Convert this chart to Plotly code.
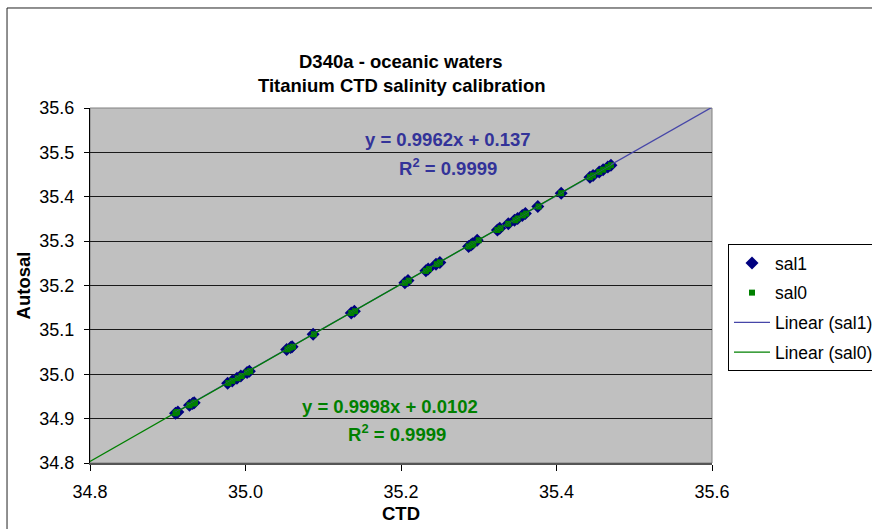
import plotly.graph_objects as go

# ---------------- data ----------------
autosal = [34.912, 34.915, 34.930, 34.934, 34.936, 34.980, 34.985, 34.991, 34.996, 35.004,
           35.007, 35.056, 35.060, 35.062, 35.090, 35.138, 35.142, 35.206, 35.211, 35.233,
           35.237, 35.248, 35.252, 35.288, 35.291, 35.294, 35.302, 35.325, 35.329, 35.339,
           35.347, 35.351, 35.358, 35.362, 35.378, 35.408, 35.444, 35.448, 35.456, 35.461,
           35.467, 35.471]
ctd_sal1 = [34.910, 34.913, 34.928, 34.932, 34.934, 34.977, 34.983, 34.989, 34.994, 35.002,
            35.005, 35.053, 35.058, 35.060, 35.087, 35.136, 35.140, 35.205, 35.209, 35.232,
            35.235, 35.245, 35.250, 35.287, 35.290, 35.292, 35.298, 35.324, 35.327, 35.338,
            35.346, 35.350, 35.356, 35.360, 35.376, 35.406, 35.443, 35.447, 35.455, 35.460,
            35.466, 35.470]
ctd_sal0 = [34.910, 34.912, 34.928, 34.933, 34.935, 34.978, 34.983, 34.990, 34.995, 35.002,
            35.006, 35.054, 35.057, 35.061, 35.088, 35.136, 35.141, 35.205, 35.210, 35.232,
            35.236, 35.246, 35.250, 35.287, 35.291, 35.293, 35.300, 35.324, 35.328, 35.338,
            35.347, 35.350, 35.357, 35.361, 35.377, 35.406, 35.443, 35.447, 35.455, 35.460,
            35.466, 35.470]

fit_slope = {"sal1": 0.9962, "sal0": 0.9998}
fit_intercept = {"sal1": 0.137, "sal0": 0.0102}
trend_x = {"sal1": [34.91, 35.6], "sal0": [34.8, 35.47]}

eq_text = {"sal1": ["y = 0.9962x + 0.137", "R<sup>2</sup> = 0.9999"],
           "sal0": ["y = 0.9998x + 0.0102", "R<sup>2</sup> = 0.9999"]}

x_ticks = [34.8, 35.0, 35.2, 35.4, 35.6]
y_ticks = [34.8, 34.9, 35.0, 35.1, 35.2, 35.3, 35.4, 35.5, 35.6]

FONT = "Liberation Sans, Arial, sans-serif"
BLUE_TXT = "#333399"
GREEN = "#008000"
NAVY = "#000080"
BLUE_LINE = "#4646A8"

fig = go.Figure()

fig.add_trace(go.Scatter(x=ctd_sal1, y=autosal, mode="markers", name="sal1",
                         legendgroup="a",
                         marker=dict(symbol="diamond", size=10, color=NAVY)))
fig.add_trace(go.Scatter(x=ctd_sal0, y=autosal, mode="markers", name="sal0",
                         legendgroup="b",
                         marker=dict(symbol="square", size=6, color=GREEN)))

for key, col, grp in [("sal1", BLUE_LINE, "c"), ("sal0", GREEN, "d")]:
    xs = trend_x[key]
    ys = [fit_slope[key] * v + fit_intercept[key] for v in xs]
    fig.add_trace(go.Scatter(x=xs, y=ys, mode="lines", name=f"Linear ({key})",
                             legendgroup=grp, line=dict(color=col, width=1.3)))

annotations = [
    dict(text="D340a - oceanic waters", xref="paper", yref="paper", x=0.5, y=1.1296,
         xanchor="center", yanchor="middle", showarrow=False,
         font=dict(family=FONT, size=18.5, color="black", weight="bold")),
    dict(text="Titanium CTD salinity calibration", xref="paper", yref="paper", x=0.5, y=1.062,
         xanchor="center", yanchor="middle", showarrow=False,
         font=dict(family=FONT, size=18.5, color="black", weight="bold")),
    dict(text=eq_text["sal1"][0], x=35.2604, y=35.528, showarrow=False,
         font=dict(family=FONT, size=18.5, color=BLUE_TXT, weight="bold")),
    dict(text=eq_text["sal1"][1], x=35.2604, y=35.467, showarrow=False,
         font=dict(family=FONT, size=18.5, color=BLUE_TXT, weight="bold")),
    dict(text=eq_text["sal0"][0], x=35.186, y=34.927, showarrow=False,
         font=dict(family=FONT, size=18.5, color=GREEN, weight="bold")),
    dict(text=eq_text["sal0"][1], x=35.195, y=34.868, showarrow=False,
         font=dict(family=FONT, size=18.5, color=GREEN, weight="bold")),
]

shapes = [
    # plot area frame (grey)
    dict(type="rect", xref="paper", yref="paper", x0=0, x1=1, y0=0, y1=1,
         line=dict(color="#808080", width=1), layer="below"),
    # outer chart border
    dict(type="rect", xref="paper", yref="paper", x0=-0.1334, x1=1.6, y0=-0.5, y1=1.2817,
         line=dict(color="#222222", width=1), fillcolor="rgba(0,0,0,0)"),
]

fig.update_layout(
    width=872, height=529,
    margin=dict(l=90, r=160, t=108, b=66, autoexpand=False),
    paper_bgcolor="white",
    plot_bgcolor="#C0C0C0",
    font=dict(family=FONT, size=18, color="black"),
    annotations=annotations,
    shapes=shapes,
    showlegend=True,
    legend=dict(x=1.0257, y=0.6169, xanchor="left", yanchor="top",
                bordercolor="black", borderwidth=1, bgcolor="white",
                font=dict(family=FONT, size=17.5, color="black"),
                itemwidth=36,
                traceorder="grouped", tracegroupgap=4),
    xaxis=dict(range=[34.8, 35.6], tickvals=x_ticks, ticktext=[f"{v:.1f}" for v in x_ticks],
               showgrid=False, zeroline=False,
               showline=True, linecolor="#555555", linewidth=2,
               ticks="outside", ticklen=6, tickcolor="black", tickwidth=1,
               tickfont=dict(family=FONT, size=18), ticklabelstandoff=5,
               title=dict(text="<b>CTD</b>", font=dict(family=FONT, size=18.5), standoff=6)),
    yaxis=dict(range=[34.8, 35.6], tickvals=y_ticks, ticktext=[f"{v:.1f}" for v in y_ticks],
               showgrid=True, gridcolor="#1a1a1a", gridwidth=1.2, zeroline=False,
               showline=True, linecolor="black", linewidth=1,
               ticks="outside", ticklen=5, tickcolor="black", tickwidth=1,
               tickfont=dict(family=FONT, size=18), ticklabelstandoff=6,
               title=dict(text="<b>Autosal</b>", font=dict(family=FONT, size=18.5), standoff=3)),
)

fig.write_html("out.html")
